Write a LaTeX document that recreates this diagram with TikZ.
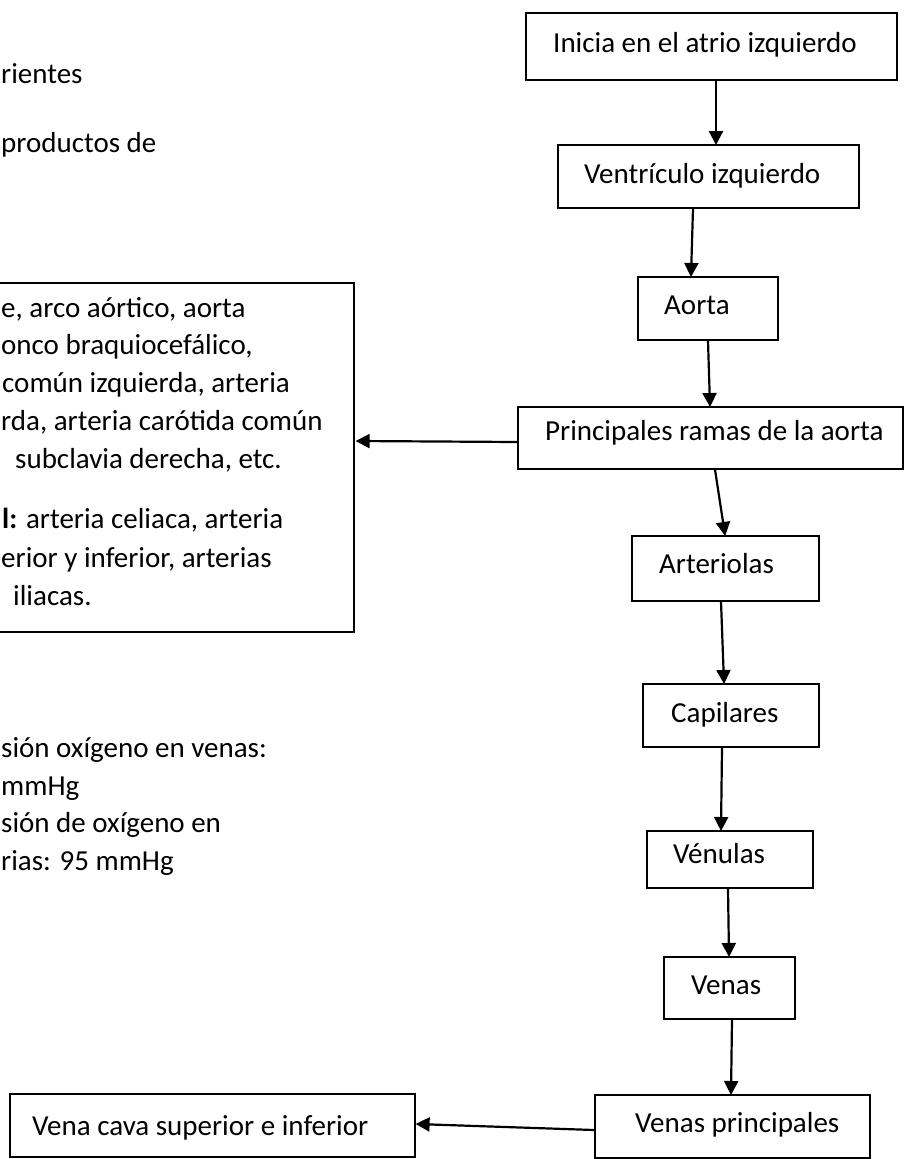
\documentclass[tikz,border=0pt]{standalone}
\usepackage{fontspec}
\setmainfont{Carlito}
\usetikzlibrary{calc,arrows.meta}
\tikzset{
  box/.style={draw=black, line width=1.6pt, rectangle, inner sep=0pt, anchor=north west},
  txt/.style={inner sep=0pt, anchor=base west, font=\fontsize{29}{38}\selectfont},
  arr/.style={line width=2.2pt, -{Triangle[length=14pt,width=14pt]}, shorten >=-1pt}
}
\begin{document}
\begin{tikzpicture}[x=1pt,y=-1pt]
\useasboundingbox (0,0) rectangle (904,1159);
\clip (0,0) rectangle (904,1159);
\fill[white] (0,0) rectangle (904,1159);

% left partial texts
\node[txt] (ta) at (1,83) {rientes};
\node[txt] (tb) at (1,152) {productos de};

% left box with partial text
\node[box, minimum width=373pt, minimum height=349pt] (lb) at (-20,282) {};
\node[txt] (l1) at (1,317) {e, arco aórtico, aorta};
\node[txt] (l2) at (1,354) {onco braquiocefálico,};
\node[txt] (l3) at (2,392) {común izquierda, arteria};
\node[txt] (l4) at (1,430) {rda, arteria carótida común};
\node[txt] (l5) at (15,468) {subclavia derecha, etc.};
\node[txt] (l6) at (2,528) {\textbf{l:} arteria celiaca, arteria};
\node[txt] (l7) at (1,567) {erior y inferior, arterias};
\node[txt] (l8) at (13,605) {iliacas.};

% lower-left partial texts
\node[txt] (p1) at (1,757) {sión oxígeno en venas:};
\node[txt] (p2) at (1,795) {mmHg};
\node[txt] (p3) at (1,832) {sión de oxígeno en};
\node[txt] (p4) at (1,870) {rias: 95 mmHg};

% flow boxes
\node[box, minimum width=371pt, minimum height=67pt] (b1) at (525,12) {};
\node[txt] at (553,52) {Inicia en el atrio izquierdo};
\node[box, minimum width=301pt, minimum height=63pt] (b2) at (557,144) {};
\node[txt] at (584,183) {Ventrículo izquierdo};
\node[box, minimum width=140pt, minimum height=63pt] (b3) at (637,276) {};
\node[txt] at (664,314) {Aorta};
\node[box, minimum width=385pt, minimum height=62pt] (b4) at (517,406) {};
\node[txt] at (545,440) {Principales ramas de la aorta};
\node[box, minimum width=187pt, minimum height=65pt] (b5) at (631,535) {};
\node[txt] at (659,573) {Arteriolas};
\node[box, minimum width=176pt, minimum height=63pt] (b6) at (642,683) {};
\node[txt] at (671,722) {Capilares};
\node[box, minimum width=166pt, minimum height=57pt] (b7) at (646,830) {};
\node[txt] at (673,863) {Vénulas};
\node[box, minimum width=131pt, minimum height=62pt] (b8) at (663,956) {};
\node[txt] at (691,994) {Venas};
\node[box, minimum width=275pt, minimum height=63pt] (b9) at (594,1094) {};
\node[txt] at (635,1132) {Venas principales};
\node[box, minimum width=405pt, minimum height=63pt] (b10) at (9,1093) {};
\node[txt] at (32,1135) {Vena cava superior e inferior};

% connectors
\draw[arr] ($(b1.south west)+(191,0)$) -- ($(b2.north west)+(159,0)$);
\draw[arr] ($(b2.south west)+(136,0)$) -- ($(b3.north west)+(54,0)$);
\draw[arr] ($(b3.south west)+(71,0)$) -- ($(b4.north west)+(193,0)$);
\draw[arr] ($(b4.north west)+(0,36)$) -- ($(lb.north east)+(2,159)$);
\draw[arr] ($(b4.south west)+(198,0)$) -- ($(b5.north west)+(94,0)$);
\draw[arr] ($(b5.south west)+(90,0)$) -- ($(b6.north west)+(82,0)$);
\draw[arr] ($(b6.south west)+(80,0)$) -- ($(b7.north west)+(75,0)$);
\draw[arr] ($(b7.south west)+(82,0)$) -- ($(b8.north west)+(66,0)$);
\draw[arr] ($(b8.south west)+(69,0)$) -- ($(b9.north west)+(137,0)$);
\draw[arr] ($(b9.north west)+(0,36)$) -- ($(b10.north east)+(1,31)$);
\end{tikzpicture}
\end{document}
